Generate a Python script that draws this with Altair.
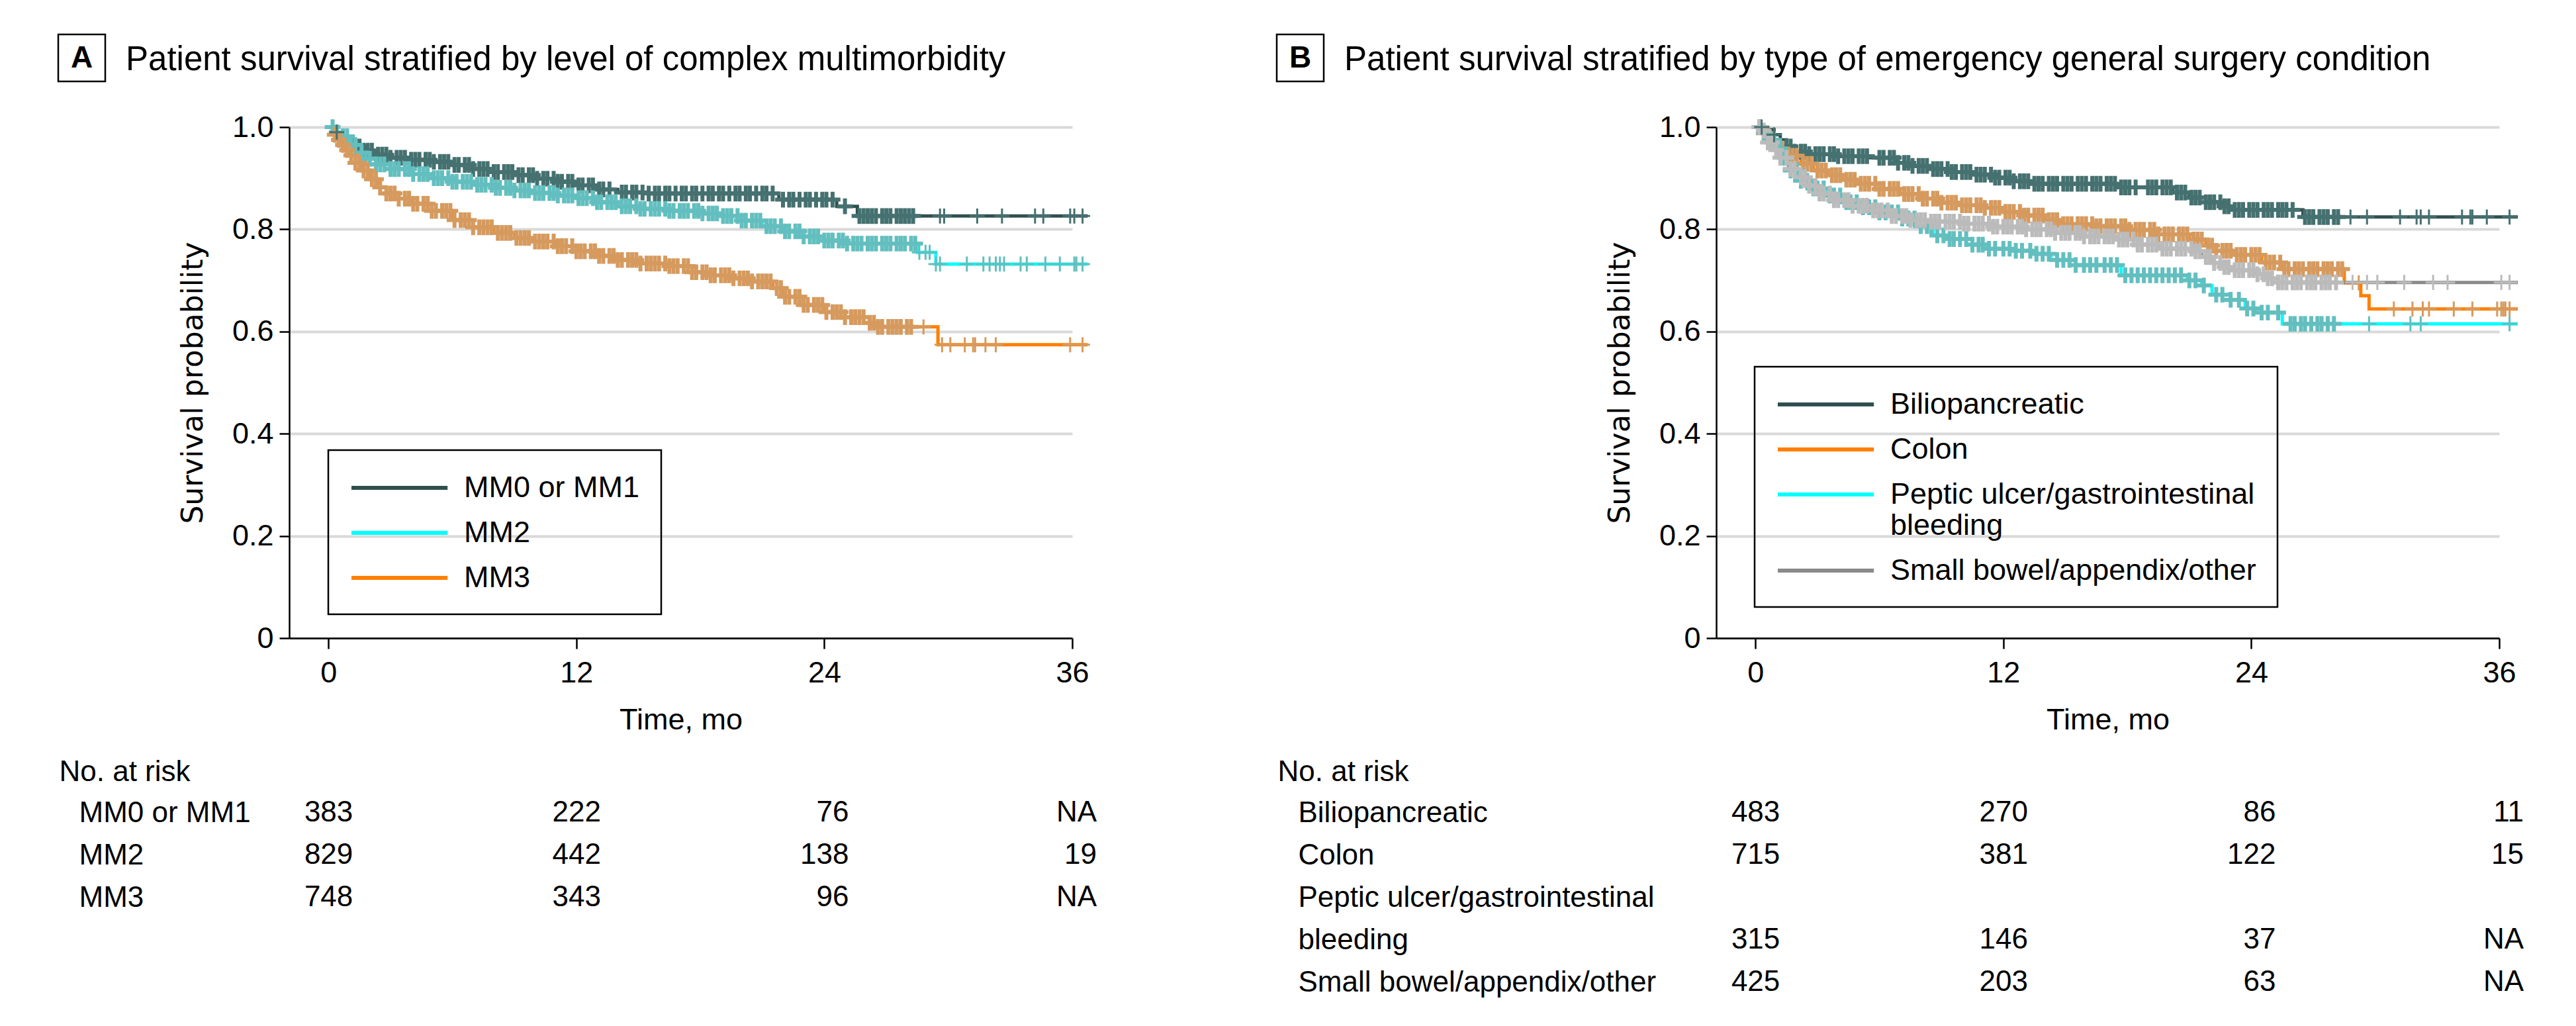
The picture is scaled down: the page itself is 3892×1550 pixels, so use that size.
import altair as alt
import pandas as pd

FONT = "Liberation Sans"
YTITLE_FONT = "DejaVu Sans"

# ---------------- Panel A data ----------------
A_letter = "A"
A_title = "Patient survival stratified by level of complex multimorbidity"
A_groups = ["MM0 or MM1", "MM2", "MM3"]
A_line_colors = ["#2F4F4F", "#00FFFF", "#FF7F00"]
A_mark_colors = ["#457170", "#63BFBF", "#D69A5E"]

mm01_t = [0, 0.3, 0.7, 1.2, 1.7, 2.3, 3.0, 4.0, 5.0, 6.0, 7.0, 8.0, 9.0, 10.0, 11.0, 12.0, 13.0, 14.0, 15.5, 21.8, 24.6, 25.6]
mm01_s = [1.0, 0.99, 0.975, 0.962, 0.954, 0.946, 0.940, 0.936, 0.932, 0.926, 0.918, 0.912, 0.906, 0.899, 0.893, 0.886, 0.878, 0.872, 0.870, 0.858, 0.845, 0.826]
mm01_end = 36.75
# censoring times, densely packed part (many overlapping marks)
mm01_cens = [1.5, 1.7, 1.9, 2.1, 2.4, 2.6, 2.8, 3.0, 3.3, 3.5, 3.7, 4.0, 4.2, 4.4, 4.7, 4.9, 5.1, 5.4, 5.6,
             5.8, 6.1, 6.3, 6.6, 6.8, 7.0, 7.3, 7.5, 7.7, 8.0, 8.2, 8.5, 8.7, 8.9, 9.2, 9.4, 9.7, 9.9, 10.1,
             10.4, 10.6, 10.9, 11.1, 11.3, 11.6, 11.8, 12.1, 12.3, 12.6, 12.8, 13.1, 13.3, 13.6, 14.2, 14.4,
             14.7, 14.9, 15.2, 15.5, 15.8, 16.0, 16.3, 16.5, 16.8, 17.1, 17.3, 17.6, 17.8, 18.1, 18.4, 18.6,
             18.9, 19.1, 19.4, 19.7, 19.9, 20.2, 20.4, 20.7, 21.0, 21.2, 21.5, 22.0, 22.3, 22.5, 22.8, 23.1,
             23.3, 23.6, 23.9, 24.1, 24.4, 25.0, 25.7, 25.9, 26.1, 26.3, 26.5, 26.8, 27.0, 27.2, 27.5, 27.7,
             27.9, 28.1, 28.3]
# isolated censoring times
mm01_cens_tail = [0.4, 29.6, 29.8, 31.4, 32.6, 34.2, 34.6, 35.9, 36.1, 36.5]

mm2_t = [0, 0.3, 0.6, 1.0, 1.4, 1.8, 2.3, 3.0, 4.0, 5.0, 6.0, 7.0, 8.0, 9.0, 10.0, 11.0, 12.0, 13.0, 14.0, 15.0, 16.5, 18.0, 19.0, 20.0, 21.0, 22.0, 23.0, 24.0, 25.0, 28.5, 29.4]
mm2_s = [1.0, 0.99, 0.982, 0.965, 0.950, 0.938, 0.927, 0.918, 0.908, 0.900, 0.893, 0.887, 0.881, 0.876, 0.871, 0.866, 0.861, 0.853, 0.845, 0.840, 0.836, 0.831, 0.826, 0.817, 0.806, 0.796, 0.786, 0.778, 0.772, 0.755, 0.732]
mm2_end = 36.75
mm2_cens = [0.2, 0.4, 0.7, 0.9, 1.1, 1.3, 1.6, 1.8, 2.0, 2.3, 2.5, 2.7, 3.0, 3.2, 3.4, 3.7, 3.9, 4.1, 4.4, 4.6,
            4.8, 5.1, 5.3, 5.5, 5.8, 6.0, 6.2, 6.5, 6.7, 6.9, 7.2, 7.4, 7.6, 7.9, 8.1, 8.3, 8.6, 8.8, 9.0,
            9.3, 9.5, 9.7, 10.0, 10.2, 10.4, 10.7, 10.9, 11.1, 11.4, 11.6, 11.8, 12.1, 12.3, 12.5, 12.8, 13.0,
            13.2, 13.5, 13.7, 13.9, 14.2, 14.4, 14.6, 14.9, 15.1, 15.3, 15.6, 15.8, 16.0, 16.3, 16.5, 16.7,
            17.0, 17.2, 17.4, 17.7, 17.9, 18.1, 18.4, 18.6, 18.8, 19.1, 19.3, 19.5, 19.8, 20.0, 20.2, 20.5,
            20.7, 20.9, 21.2, 21.4, 21.6, 21.9, 22.1, 22.3, 22.6, 22.8, 23.0, 23.3, 23.5, 23.7, 24.0, 24.2,
            24.4, 24.7, 24.9, 25.1, 25.4, 25.6, 25.8, 26.1, 26.3, 26.5, 26.8, 27.0, 27.2, 27.5, 27.7, 27.9,
            28.2, 28.4]
mm2_cens_tail = [28.6, 28.9, 29.1, 29.4, 29.6, 30.9, 31.7, 32.0, 32.3, 32.5, 32.7, 33.5, 33.8, 34.7, 35.4,
                 36.1, 36.2, 36.5]

mm3_t = [0, 0.2, 0.4, 0.6, 0.8, 1.0, 1.3, 1.6, 2.0, 2.4, 2.8, 3.4, 4.0, 5.0, 6.0, 7.0, 8.0, 9.0, 10.0, 11.0, 12.0, 13.0, 14.0, 15.0, 16.5, 17.6, 18.5, 19.5, 20.5, 21.5, 22.0, 23.0, 24.0, 25.0, 26.2, 26.5, 29.5]
mm3_s = [1.0, 0.985, 0.975, 0.965, 0.955, 0.945, 0.930, 0.915, 0.898, 0.882, 0.870, 0.860, 0.850, 0.836, 0.818, 0.804, 0.793, 0.783, 0.776, 0.767, 0.757, 0.748, 0.740, 0.733, 0.728, 0.716, 0.710, 0.704, 0.698, 0.685, 0.668, 0.652, 0.638, 0.628, 0.617, 0.609, 0.574]
mm3_end = 36.75
mm3_cens = [0.3, 0.5, 0.7, 0.9, 1.1, 1.3, 1.5, 1.7, 1.9, 2.1, 2.3, 2.5, 2.8, 3.0, 3.2, 3.4, 3.7, 3.9, 4.1, 4.3,
            4.6, 4.8, 5.0, 5.2, 5.5, 5.7, 5.9, 6.1, 6.4, 6.6, 6.8, 7.0, 7.3, 7.5, 7.7, 7.9, 8.2, 8.4, 8.6,
            8.8, 9.1, 9.3, 9.5, 9.7, 10.0, 10.2, 10.4, 10.6, 10.9, 11.1, 11.3, 11.5, 11.8, 12.0, 12.2, 12.4,
            12.7, 12.9, 13.1, 13.3, 13.6, 13.8, 14.0, 14.2, 14.5, 14.7, 14.9, 15.1, 15.4, 15.6, 15.8, 16.0,
            16.3, 16.5, 16.7, 16.9, 17.2, 17.4, 17.6, 17.8, 18.1, 18.3, 18.5, 18.7, 19.0, 19.2, 19.4, 19.6,
            19.9, 20.1, 20.3, 20.5, 20.8, 21.0, 21.2, 21.4, 21.7, 21.9, 22.1, 22.3, 22.6, 22.8, 23.0, 23.2,
            23.5, 23.7, 23.9, 24.1, 24.4, 24.6, 24.8, 25.0, 25.3, 25.5, 25.7, 25.9, 26.2, 26.4, 26.6, 26.8,
            27.1, 27.3, 27.5, 27.7, 28.0, 28.2]
mm3_cens_tail = [28.8, 29.7, 30.1, 30.8, 31.2, 31.3, 31.8, 32.3, 35.9, 36.5]

A_curves = [(mm01_t, mm01_s, mm01_end, mm01_cens, mm01_cens_tail),
            (mm2_t, mm2_s, mm2_end, mm2_cens, mm2_cens_tail),
            (mm3_t, mm3_s, mm3_end, mm3_cens, mm3_cens_tail)]
A_risk_rows = ["MM0 or MM1", "MM2", "MM3"]
A_risk_values = [["383", "222", "76", "NA"], ["829", "442", "138", "19"], ["748", "343", "96", "NA"]]

# ---------------- Panel B data ----------------
B_letter = "B"
B_title = "Patient survival stratified by type of emergency general surgery condition"
B_groups = ["Biliopancreatic", "Colon", "Peptic ulcer/gastrointestinal bleeding", "Small bowel/appendix/other"]
B_line_colors = ["#2F4F4F", "#FF7F00", "#00FFFF", "#8A8A8A"]
B_mark_colors = ["#457170", "#D69A5E", "#63BFBF", "#BBBBBB"]

bil_t = [0, 0.5, 0.9, 1.2, 1.5, 1.8, 2.5, 4.0, 5.5, 6.8, 7.5, 8.5, 9.5, 10.5, 11.5, 12.5, 13.5, 17.5, 20.2, 21.0, 21.8, 22.6, 23.2, 26.5]
bil_s = [1.0, 0.995, 0.985, 0.975, 0.962, 0.952, 0.947, 0.943, 0.940, 0.930, 0.924, 0.918, 0.912, 0.907, 0.901, 0.894, 0.889, 0.882, 0.872, 0.862, 0.853, 0.845, 0.838, 0.824]
bil_end = 36.9
bil_cens = [1.5, 1.7, 1.9, 2.2, 2.4, 2.6, 2.9, 3.1, 3.3, 3.6, 3.8, 4.0, 4.3, 4.5, 4.7, 5.0, 5.2, 5.4,
            6.0, 6.2, 6.5, 6.7, 6.9, 7.2, 7.4, 7.6, 7.9, 8.1, 8.3, 8.6, 8.8, 9.0, 9.3, 9.5, 9.7, 10.0, 10.2,
            10.4, 10.7, 10.9, 11.1, 11.4, 11.6, 11.8, 12.1, 12.3, 12.5, 12.8, 13.0, 13.2, 13.5, 13.7, 13.9,
            14.2, 14.4, 14.6, 14.9, 15.1, 15.3, 15.6, 15.8, 16.0, 16.3, 16.5, 16.7, 17.0, 17.2, 17.4, 17.7,
            17.9, 18.1, 18.4, 19.0, 19.2, 19.4, 19.7, 19.9, 20.1, 20.4, 20.6, 20.8, 21.1, 21.3, 21.5, 21.8,
            22.0, 22.2, 22.5, 22.7, 22.9, 23.2, 23.4, 23.6, 23.9, 24.1, 24.3, 24.6, 24.8, 25.0, 25.3, 25.5,
            25.7, 26.0, 26.6, 26.8, 27.0, 27.3, 27.5, 27.7, 28.0, 28.2]
bil_cens_tail = [0.3, 0.9, 28.8, 29.6, 31.2, 32.0, 32.2, 32.6, 34.2, 34.6, 34.7, 35.4, 36.5]

col_t = [0, 0.3, 0.7, 1.1, 1.6, 2.2, 2.8, 3.5, 4.2, 5.0, 6.0, 7.0, 8.0, 9.0, 10.0, 11.0, 12.0, 13.0, 14.0, 14.8, 16.5, 18.0, 19.5, 21.0, 21.8, 22.3, 23.2, 24.5, 25.5, 28.5, 29.3, 29.7]
col_s = [1.0, 0.988, 0.972, 0.958, 0.944, 0.928, 0.915, 0.906, 0.897, 0.889, 0.879, 0.869, 0.860, 0.852, 0.847, 0.842, 0.834, 0.827, 0.818, 0.810, 0.806, 0.799, 0.790, 0.780, 0.768, 0.758, 0.750, 0.735, 0.722, 0.695, 0.670, 0.644]
col_end = 36.9
col_cens = [0.2, 0.4, 0.6, 0.9, 1.1, 1.3, 1.6, 1.8, 2.0, 2.3, 2.5, 2.7, 3.0, 3.2, 3.4, 3.7, 3.9, 4.1, 4.4, 4.6,
            4.8, 5.1, 5.3, 5.5, 5.8, 6.0, 6.2, 6.5, 6.7, 6.9, 7.2, 7.4, 7.6, 7.9, 8.1, 8.3, 8.6, 8.8, 9.0,
            9.3, 9.5, 9.7, 10.0, 10.2, 10.4, 10.7, 10.9, 11.1, 11.4, 11.6, 11.8, 12.1, 12.3, 12.5, 12.8, 13.0,
            13.2, 13.5, 13.7, 13.9, 14.2, 14.4, 14.6, 14.9, 15.1, 15.3, 15.6, 15.8, 16.0, 16.3, 16.5, 16.7,
            17.0, 17.2, 17.4, 17.7, 17.9, 18.1, 18.4, 18.6, 18.8, 19.1, 19.3, 19.5, 19.8, 20.0, 20.2, 20.5,
            20.7, 20.9, 21.2, 21.4, 21.6, 21.9, 22.1, 22.3, 22.6, 22.8, 23.0, 23.3, 23.5, 23.7, 24.0, 24.2,
            24.4, 24.7, 24.9, 25.1, 25.4, 25.6, 25.8, 26.1, 26.3, 26.5, 26.8, 27.0, 27.2, 27.5, 27.7, 27.9,
            28.2, 28.4]
col_cens_tail = [29.2, 30.9, 31.8, 32.3, 32.6, 33.8, 34.7, 35.9, 36.1, 36.2, 36.3, 36.5]

pep_t = [0, 0.4, 0.7, 1.0, 1.3, 1.7, 2.2, 2.8, 3.5, 4.2, 5.0, 6.0, 7.0, 8.0, 8.6, 9.2, 10.5, 11.2, 12.5, 13.5, 14.3, 15.5, 17.7, 20.9, 21.6, 22.1, 23.0, 23.7, 24.2, 25.5]
pep_s = [1.0, 0.99, 0.975, 0.958, 0.940, 0.915, 0.895, 0.880, 0.866, 0.853, 0.843, 0.833, 0.821, 0.806, 0.788, 0.781, 0.770, 0.762, 0.758, 0.752, 0.740, 0.730, 0.710, 0.700, 0.690, 0.672, 0.662, 0.645, 0.637, 0.615]
pep_end = 36.9
pep_cens = [0.2, 0.4, 0.7, 0.9, 1.2, 1.4, 1.7, 2.0, 2.2, 2.5, 2.8, 3.0, 3.3, 3.6, 3.8, 4.1, 4.4, 4.6, 4.9, 5.2,
            5.5, 5.8, 6.0, 6.3, 6.6, 6.9, 7.1, 7.4, 7.7, 8.0, 8.3, 8.5, 8.8, 9.1, 9.4, 9.6, 9.9, 10.2, 10.5,
            10.8, 11.0, 11.3, 11.6, 12.0, 12.3, 12.6, 12.9, 13.3, 13.6, 13.9, 14.2, 14.6, 14.9, 15.2, 15.5,
            15.9, 16.2, 16.5, 16.9, 17.2, 17.5, 17.9, 18.2, 18.5, 18.8, 19.1, 19.4, 19.7, 20.0, 20.3, 20.6,
            21.0, 21.3, 21.7, 22.3, 22.6, 23.0, 23.4, 23.8, 24.1, 24.5, 24.8, 25.3, 25.9, 26.1, 26.4, 26.6,
            26.9, 27.2, 27.4, 27.7, 28.0]
pep_cens_tail = [29.7, 31.7, 32.2, 36.5]

smb_t = [0, 0.3, 0.6, 0.9, 1.2, 1.6, 2.0, 2.5, 3.0, 3.8, 4.6, 5.5, 6.5, 7.5, 8.5, 10.0, 11.5, 13.0, 14.5, 15.8, 17.5, 18.5, 19.5, 21.2, 21.6, 22.1, 22.6, 23.2, 24.2, 24.8, 25.3]
smb_s = [1.0, 0.993, 0.970, 0.955, 0.940, 0.918, 0.902, 0.885, 0.870, 0.857, 0.846, 0.837, 0.826, 0.818, 0.815, 0.811, 0.805, 0.800, 0.793, 0.786, 0.780, 0.770, 0.762, 0.757, 0.746, 0.734, 0.726, 0.720, 0.712, 0.704, 0.696]
smb_end = 36.9
smb_cens = [0.2, 0.4, 0.6, 0.8, 1.0, 1.2, 1.5, 1.7, 1.9, 2.2, 2.4, 2.6, 2.9, 3.1, 3.3, 3.6, 3.8, 4.0, 4.3, 4.5,
            4.7, 5.0, 5.2, 5.4, 5.7, 5.9, 6.1, 6.4, 6.6, 6.8, 7.1, 7.3, 7.5, 7.8, 8.0, 8.2, 8.5, 8.7, 8.9,
            9.2, 9.4, 9.6, 9.9, 10.1, 10.3, 10.6, 10.8, 11.0, 11.3, 11.5, 11.7, 12.0, 12.2, 12.4, 12.7, 12.9,
            13.1, 13.4, 13.6, 13.8, 14.1, 14.3, 14.5, 14.8, 15.0, 15.2, 15.5, 15.7, 15.9, 16.2, 16.4, 16.6,
            16.9, 17.1, 17.3, 17.6, 17.8, 18.0, 18.3, 18.5, 18.7, 19.0, 19.2, 19.4, 19.7, 19.9, 20.1, 20.4,
            20.6, 20.8, 21.1, 21.3, 21.5, 21.8, 22.0, 22.2, 22.5, 22.7, 22.9, 23.2, 23.4, 23.6, 23.9, 24.1,
            24.3, 24.6, 24.8, 25.0, 25.3, 25.5, 25.7, 26.0, 26.2, 26.4, 26.7, 26.9, 27.1, 27.4, 27.6, 27.8,
            28.1]
smb_cens_tail = [28.9, 29.6, 30.1, 31.4, 32.8, 33.5, 36.1, 36.5]

B_curves = [(bil_t, bil_s, bil_end, bil_cens, bil_cens_tail),
            (col_t, col_s, col_end, col_cens, col_cens_tail),
            (pep_t, pep_s, pep_end, pep_cens, pep_cens_tail),
            (smb_t, smb_s, smb_end, smb_cens, smb_cens_tail)]
B_risk_rows = ["Biliopancreatic", "Colon", "Peptic ulcer/gastrointestinal", "bleeding", "Small bowel/appendix/other"]
B_risk_group_rows = ["Biliopancreatic", "Colon", "bleeding", "Small bowel/appendix/other"]
B_risk_values = [["483", "270", "86", "11"], ["715", "381", "122", "15"], ["315", "146", "37", "NA"], ["425", "203", "63", "NA"]]

risk_times = [0, 12, 24, 36]
x_ticks = [0, 12, 24, 36]
y_ticks = [0, 0.2, 0.4, 0.6, 0.8, 1.0]

# ---------------- layout constants ----------------
W = 1183
H = 772
ROW = 64
CROSS = "M-1,0H1M0,-1V1"


def step_value(ts, ss, c):
    v = ss[0]
    for t, s in zip(ts, ss):
        if t <= c:
            v = s
    return v


def build_frames(groups, curves):
    lines, dense, tail = [], [], []
    for gi, (g, (ts, ss, end, cens, cens_tail)) in enumerate(zip(groups, curves)):
        for t, s in zip(ts, ss):
            lines.append({"group": g, "order": gi, "t": t, "s": s})
        lines.append({"group": g, "order": gi, "t": end, "s": ss[-1]})
        for c in cens:
            dense.append({"group": g, "order": gi, "t": c, "s": step_value(ts, ss, c)})
        for c in cens_tail:
            tail.append({"group": g, "order": gi, "t": c, "s": step_value(ts, ss, c)})
    return pd.DataFrame(lines), pd.DataFrame(dense), pd.DataFrame(tail)


def panel(letter, title, groups, line_colors, mark_colors, curves, risk_rows, risk_group_rows,
          risk_values, box_x, legend_xy, label_pad, peptic=False):
    df_lines, df_dense, df_tail = build_frames(groups, curves)
    xs = alt.Scale(domain=[-1.9, 36], nice=False, zero=False)
    ys = alt.Scale(domain=[0, 1], nice=False, zero=True)

    x_axis = alt.Axis(values=x_ticks, title="Time, mo", grid=False, labelFontSize=45, labelFont=FONT,
                      labelColor="black", labelPadding=14, labelFlush=False, labelOverlap=False,
                      tickSize=16, tickWidth=2.5, tickColor="black", domainColor="black", domainWidth=2.5,
                      titleFont=FONT, titleFontSize=45, titleFontWeight="normal", titleColor="black",
                      titlePadding=26)
    y_axis = alt.Axis(values=y_ticks, title="Survival probability",
                      labelExpr="datum.value == 0 ? '0' : format(datum.value, '.1f')",
                      grid=True, gridColor="#D9D9D9", gridWidth=4,
                      labelFontSize=45, labelFont=FONT, labelColor="black", labelPadding=9,
                      labelFlush=False, labelOverlap=False,
                      tickSize=15, tickWidth=2.5, tickColor="black", domainColor="black", domainWidth=2.5,
                      titleFont=YTITLE_FONT, titleFontSize=44, titleFontWeight="normal",
                      titleColor="black", titlePadding=36)

    label_expr = "datum.label"
    if peptic:
        label_expr = ("datum.label == 'Peptic ulcer/gastrointestinal bleeding' ? "
                      "['Peptic ulcer/gastrointestinal', 'bleeding'] : datum.label")

    legend = alt.Legend(orient="none", legendX=legend_xy[0], legendY=legend_xy[1], title=None,
                        strokeColor="black", padding=32, rowPadding=20,
                        symbolType="M-1,0H5.6", symbolSize=1936, symbolStrokeWidth=6,
                        labelOffset=123, labelFontSize=45, labelFont=FONT, labelColor="black",
                        labelLimit=1000, labelExpr=label_expr)

    stroke_scale = alt.Scale(domain=groups, range=mark_colors)

    lines = alt.Chart(df_lines).mark_line(interpolate="step-after", strokeWidth=5, clip=False).encode(
        x=alt.X("t:Q", scale=xs, axis=x_axis),
        y=alt.Y("s:Q", scale=ys, axis=y_axis),
        color=alt.Color("group:N", scale=alt.Scale(domain=groups, range=line_colors), legend=legend),
        order=alt.Order("order:Q"),
    )
    dense = alt.Chart(df_dense).mark_point(shape=CROSS, size=560, strokeWidth=6,
                                           filled=False, opacity=1, clip=False).encode(
        x=alt.X("t:Q", scale=xs),
        y=alt.Y("s:Q", scale=ys),
        stroke=alt.Stroke("group:N", scale=stroke_scale, legend=None),
        order=alt.Order("order:Q"),
    )
    tail = alt.Chart(df_tail).mark_point(shape=CROSS, size=520, strokeWidth=3,
                                         filled=False, opacity=1, clip=False).encode(
        x=alt.X("t:Q", scale=xs),
        y=alt.Y("s:Q", scale=ys),
        stroke=alt.Stroke("group:N", scale=stroke_scale, legend=None),
        order=alt.Order("order:Q"),
    )

    head_df = pd.DataFrame({"letter": [letter], "title": [title]})
    box = alt.Chart(head_df).mark_rect(fillOpacity=0, stroke="black", strokeWidth=2.5).encode(
        x=alt.value(box_x), x2=alt.value(box_x + 71), y=alt.value(-140), y2=alt.value(-69))
    letter_mark = alt.Chart(head_df).mark_text(font=FONT, fontSize=46, fontWeight="bold", align="center",
                                               baseline="middle", color="black").encode(
        x=alt.value(box_x + 35.5), y=alt.value(-104.5), text="letter:N")
    title_mark = alt.Chart(head_df).mark_text(font=FONT, fontSize=51, align="left",
                                              baseline="alphabetic", color="black").encode(
        x=alt.value(box_x + 102), y=alt.value(-86), text="title:N")

    plot = alt.layer(lines, dense, tail, box, letter_mark, title_mark).properties(width=W, height=H)

    risk_records = []
    for row, vals in zip(risk_group_rows, risk_values):
        for t, v in zip(risk_times, vals):
            risk_records.append({"row": row, "t": t, "n": v})
    risk_df = pd.DataFrame(risk_records)
    risk = alt.Chart(risk_df).mark_text(font=FONT, fontSize=44, align="right", baseline="middle",
                                        dx=37, color="black").encode(
        x=alt.X("t:Q", scale=xs, axis=None),
        y=alt.Y("row:N", scale=alt.Scale(domain=risk_rows),
                axis=alt.Axis(title="No. at risk", titleAngle=0, titleAlign="left",
                              titleBaseline="alphabetic", titleX=box_x + 1, titleY=-17,
                              titleFont=FONT, titleFontSize=44, titleFontWeight="normal",
                              titleColor="black", labelAlign="left", labelPadding=label_pad,
                              labelFont=FONT, labelFontSize=44, labelColor="black", labelLimit=2000,
                              ticks=False, domain=False, grid=False)),
        text="n:N",
    ).properties(width=W, height=ROW * len(risk_rows))

    return plot, risk


plotA, riskA = panel(A_letter, A_title, A_groups, A_line_colors, A_mark_colors, A_curves, A_risk_rows,
                     A_risk_rows, A_risk_values, box_x=-349, legend_xy=(59, 488), label_pad=318)
plotB, riskB = panel(B_letter, B_title, B_groups, B_line_colors, B_mark_colors, B_curves, B_risk_rows,
                     B_risk_group_rows, B_risk_values, box_x=-664, legend_xy=(58, 362), label_pad=632,
                     peptic=True)

chart = alt.concat(
    plotA, plotB, riskA, riskB, columns=2,
    spacing={"row": 232, "column": 973}, bounds="flush",
).resolve_scale(
    x="independent", y="independent", color="independent", stroke="independent"
).properties(
    padding={"left": 78, "top": 42, "right": 10, "bottom": 10},
    background="white",
).configure_view(stroke="transparent").configure_legend(strokeWidth=2.5)

chart.save("out.html", embed_options={"renderer": "svg", "actions": False})
